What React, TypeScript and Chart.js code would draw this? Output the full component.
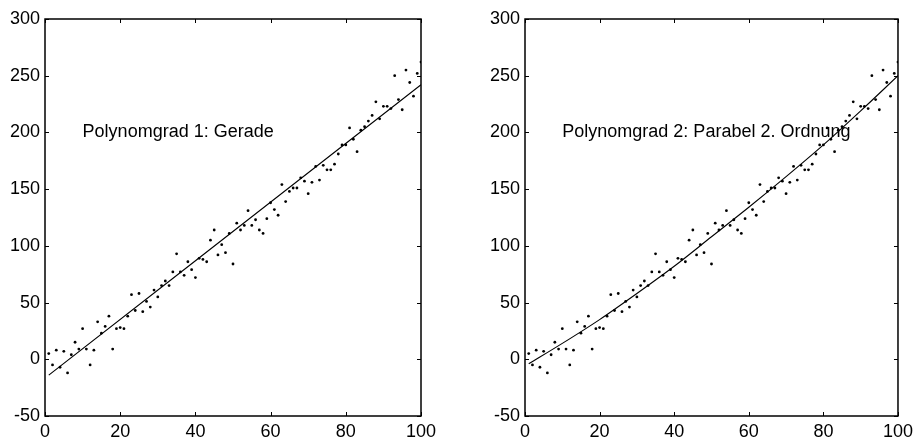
import React, { useEffect, useRef } from "react";
import { Chart, registerables } from "chart.js";

Chart.register(...registerables);

// Measured data (x = 1..100)
const xValues: number[] = Array.from({ length: 100 }, (_, i) => i + 1);
const yValues: number[] = [
  5, -5, 8, -7, 7, -12, 4, 15, 9, 27,
  9, -5, 8, 33, 23, 29, 38, 9, 27, 28,
  27, 38, 57, 43, 58, 42, 51, 46, 61, 55,
  65, 69, 65, 77, 93, 77, 74, 86, 79, 72,
  89, 88, 86, 105, 114, 92, 101, 94, 111, 84,
  120, 114, 118, 131, 118, 123, 114, 111, 124, 138,
  132, 127, 154, 139, 148, 151, 151, 160, 157, 146,
  156, 170, 158, 171, 167, 167, 172, 181, 189, 189,
  204, 194, 183, 202, 205, 210, 215, 227, 212, 223,
  223, 221, 250, 229, 220, 255, 244, 232, 252, 262,
];

// Fitted curves
const linFitX: number[] = [1, 100];
const linFitY: number[] = [-14, 242];
const quadFitX: number[] = [1, 10, 20, 30, 40, 50, 60, 70, 80, 90, 100];
const quadFitY: number[] = [-4, 14, 35, 58, 82, 108, 134, 161, 189, 219, 250];

const xTicks = [0, 20, 40, 60, 80, 100];
const yTicks = [-50, 0, 50, 100, 150, 200, 250, 300];

const labelLeft = "Polynomgrad 1: Gerade";
const labelRight = "Polynomgrad 2: Parabel 2. Ordnung";
const labelPos = { x: 10, y: 200 };

const FONT = '"Liberation Sans", Arial, sans-serif';

const framePlugin = {
  id: "matlabFrame",
  afterDraw(chart: any, _args: any, opts: any) {
    const { ctx, chartArea } = chart;
    const { left, right, top, bottom } = chartArea;
    const xs = chart.scales.x;
    const ys = chart.scales.y;
    ctx.save();
    ctx.strokeStyle = "#000";
    ctx.lineWidth = 1.5;
    ctx.strokeRect(left, top, right - left, bottom - top);
    ctx.lineWidth = 1;
    const tl = 4;
    ctx.beginPath();
    xs.ticks.forEach((t: any) => {
      const px = Math.round(xs.getPixelForValue(t.value)) + 0.5;
      ctx.moveTo(px, bottom);
      ctx.lineTo(px, bottom - tl);
      ctx.moveTo(px, top);
      ctx.lineTo(px, top + tl);
    });
    ys.ticks.forEach((t: any) => {
      const py = Math.round(ys.getPixelForValue(t.value)) + 0.5;
      ctx.moveTo(left, py);
      ctx.lineTo(left + tl, py);
      ctx.moveTo(right, py);
      ctx.lineTo(right - tl, py);
    });
    ctx.stroke();
    ctx.fillStyle = "#000";
    ctx.font = `${opts.size}px ${FONT}`;
    ctx.textAlign = "left";
    ctx.textBaseline = "middle";
    ctx.fillText(opts.text, xs.getPixelForValue(opts.x), ys.getPixelForValue(opts.y));
    ctx.restore();
  },
};

function Panel({ width, fitX, fitY, text, textSize, rightPad }: { width: number; fitX: number[]; fitY: number[]; text: string; textSize: number; rightPad: number }) {
  const ref = useRef<HTMLCanvasElement | null>(null);
  useEffect(() => {
    if (!ref.current) return;
    const chart = new Chart(ref.current, {
      type: "scatter",
      data: {
        datasets: [
          {
            type: "scatter",
            data: xValues.map((x, i) => ({ x, y: yValues[i] })),
            pointRadius: 1.4,
            pointHoverRadius: 1.4,
            pointBackgroundColor: "#000",
            pointBorderWidth: 0,
            showLine: false,
          } as any,
          {
            type: "line",
            data: fitX.map((x, i) => ({ x, y: fitY[i] })),
            borderColor: "#000",
            borderWidth: 1.1,
            pointRadius: 0,
            fill: false,
            tension: 0.4,
            cubicInterpolationMode: "monotone",
          } as any,
        ],
      },
      options: {
        responsive: false,
        animation: false,
        devicePixelRatio: 1,
        layout: { padding: { left: 0, right: rightPad, top: 19, bottom: 0 } },
        plugins: {
          legend: { display: false },
          tooltip: { enabled: false },
          title: { display: false },
          matlabFrame: { text, size: textSize, x: labelPos.x, y: labelPos.y },
        } as any,
        scales: {
          x: {
            type: "linear",
            min: 0,
            max: 100,
            afterBuildTicks: (s: any) => {
              s.ticks = xTicks.map((v) => ({ value: v }));
            },
            afterFit: (s: any) => {
              s.height = 27;
            },
            grid: { display: false, drawTicks: false },
            border: { display: false },
            ticks: { color: "#000", font: { family: FONT, size: 18 }, padding: 5, maxRotation: 0 },
          },
          y: {
            type: "linear",
            min: -50,
            max: 300,
            afterBuildTicks: (s: any) => {
              s.ticks = yTicks.map((v) => ({ value: v }));
            },
            afterFit: (s: any) => {
              s.width = 45;
            },
            grid: { display: false, drawTicks: false },
            border: { display: false },
            ticks: { color: "#000", font: { family: FONT, size: 18 }, padding: 5 },
          },
        },
      },
      plugins: [framePlugin],
    } as any);
    return () => chart.destroy();
  }, []);
  return <canvas ref={ref} width={width} height={443} style={{ width, height: 443, display: "block" }} />;
}

export default function App() {
  return (
    <div style={{ position: "fixed", left: 0, top: 0, width: 918, height: 443, background: "#fff", display: "flex" }}>
      <div style={{ width: 460, height: 443 }}>
        <Panel width={460} fitX={linFitX} fitY={linFitY} text={labelLeft} textSize={18} rightPad={39} />
      </div>
      <div style={{ width: 458, height: 443, position: "relative" }}>
        <div style={{ position: "absolute", left: 20, top: 0 }}>
          <Panel width={438} fitX={quadFitX} fitY={quadFitY} text={labelRight} textSize={18} rightPad={17} />
        </div>
      </div>
    </div>
  );
}
